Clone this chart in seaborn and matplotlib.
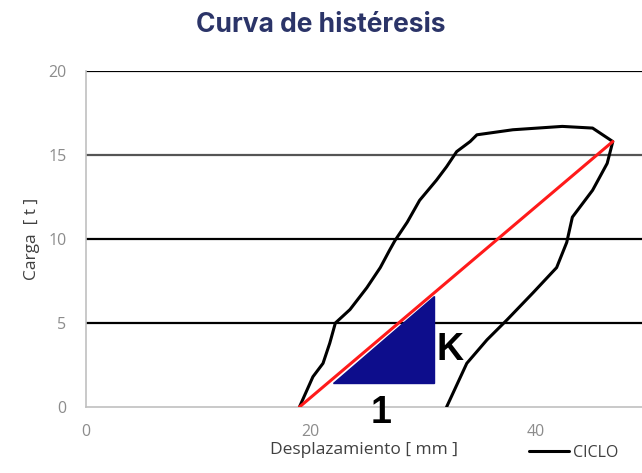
"""
Curva de histéresis: ciclo carga-desplazamiento con rigidez secante K
"""
import pandas as pd
import numpy as np

import matplotlib
matplotlib.use('Agg')
import matplotlib.pyplot as plt
import seaborn as sns

# Ciclo de carga (rama de subida y de bajada)
ciclo_x = [19.0, 20.2, 21.1, 21.7, 22.2, 23.5, 25.0, 26.2, 27.0, 27.5, 28.6, 29.7,
           31.2, 32.1, 33.0, 34.2, 34.8, 38.0, 42.4, 45.1, 46.9,
           46.4, 45.1, 43.3, 42.8, 41.9, 39.8, 37.5, 35.7, 33.9, 32.1]
ciclo_y = [0.0, 1.8, 2.6, 3.8, 5.0, 5.8, 7.1, 8.3, 9.3, 9.9, 11.0, 12.3,
           13.5, 14.3, 15.2, 15.8, 16.2, 16.5, 16.7, 16.6, 15.8,
           14.5, 12.9, 11.3, 9.8, 8.3, 6.8, 5.2, 4.0, 2.6, 0.0]

# Recta secante (rigidez K)
secante_x = [19.0, 46.9]
secante_y = [0.0, 15.8]

# Triángulo de pendiente
tri_x = [22.0, 31.0, 31.0]
tri_y = [1.45, 1.45, 6.6]

y_ticks = [0, 5, 10, 15, 20]
x_ticks = [0, 20, 40]

df = pd.DataFrame({'x': ciclo_x, 'y': ciclo_y})
df_sec = pd.DataFrame({'x': secante_x, 'y': secante_y})

sns.set_style('white')
plt.rcParams['font.family'] = ['Open Sans', 'DejaVu Sans']

fig = plt.figure(figsize=(6.42, 4.73), dpi=100)
ax = fig.add_axes([0.134, 0.1395, 0.866, 0.7105])

# Líneas de rejilla horizontales
for yv, col in zip([5, 10, 15, 20], ['black', 'black', '#555555', 'black']):
    ax.axhline(yv, color=col, lw=1.6, zorder=1)

sns.lineplot(data=df, x='x', y='y', sort=False, estimator=None, color='black',
             lw=2.2, ax=ax, zorder=3)
ax.fill(tri_x, tri_y, color='#0d0d8c', zorder=4)
sns.lineplot(data=df_sec, x='x', y='y', sort=False, estimator=None, color='#ff1a1a',
             lw=2.2, ax=ax, zorder=5)

ax.text(31.2, 3.4, 'K', fontsize=27, fontweight='bold', family='Liberation Sans',
        color='black', ha='left', va='center', zorder=6)
ax.text(26.3, -0.35, '1', fontsize=27, fontweight='bold', family='Liberation Sans',
        color='black', ha='center', va='center', clip_on=False, zorder=6)

ax.set_xlim(0, 49.5)
ax.set_ylim(0, 20)
ax.set_xticks(x_ticks)
ax.set_yticks(y_ticks)
ax.tick_params(axis='both', colors='#8c8c8c', labelsize=11.5, length=0)
ax.tick_params(axis='x', pad=12)
ax.tick_params(axis='y', pad=14)

for s in ['top', 'right']:
    ax.spines[s].set_visible(False)
for s in ['left', 'bottom']:
    ax.spines[s].set_color('#c0c0c0')
    ax.spines[s].set_linewidth(1.2)

ax.set_xlabel('Desplazamiento [ mm ]', fontsize=12.5, color='#404040', labelpad=2)
ax.set_ylabel('Carga  [ t ]', fontsize=12.5, color='#404040', labelpad=6)

fig.text(0.5, 0.947, 'Curva de histéresis', ha='center', va='center',
         fontsize=19, fontweight='bold', color='#2b3468', family='Inter')

ciclo_line = ax.get_lines()[4]
leg = fig.legend([ciclo_line], ['CICLO'], loc='lower right', bbox_to_anchor=(0.985, -0.005),
                 frameon=False, fontsize=11.5, handlelength=2.5, handletextpad=0.2)
for t in leg.get_texts():
    t.set_color('#404040')

fig.savefig('out.png', dpi=100)
plt.close(fig)
